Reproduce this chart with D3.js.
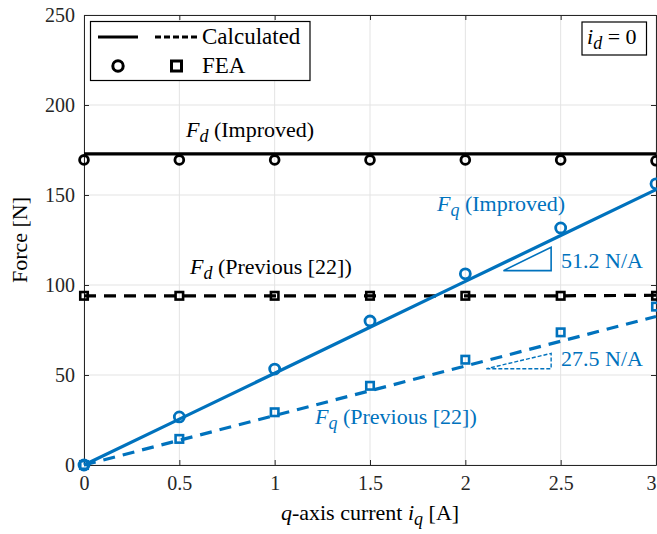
<!DOCTYPE html>
<html><head><meta charset="utf-8">
<script src="https://cdn.jsdelivr.net/npm/d3@7"></script>
<style>body{margin:0;background:#fff}svg{display:block}text{font-family:"Liberation Serif","Times New Roman",serif}</style>
</head><body><svg id="c" width="657" height="534"></svg>
<script>
const current = [0, 0.5, 1, 1.5, 2, 2.5, 3];
const fdImprovedCalc = [172.8, 172.8, 172.8, 172.8, 172.8, 172.8, 172.8];
const fdImprovedFEA = [169.5, 169.5, 169.5, 169.5, 169.5, 169.5, 169.0];
const fdPreviousCalc = [94, 94, 94, 94, 94, 94, 94.3];
const fdPreviousFEA = [94, 94, 94, 94, 94, 94, 94];
const fqImprovedCalc = [0, 25.5, 51, 76.5, 102, 127.5, 153];
const fqImprovedFEA = [0, 26.7, 53.3, 80, 106.2, 131.7, 156.2];
const fqPreviousCalc = [0, 13.75, 27.5, 41.25, 55, 68.75, 82.5];
const fqPreviousFEA = [0, 14.5, 29.3, 44, 58.5, 73.7, 88];
const xTicks = [0, 0.5, 1, 1.5, 2, 2.5, 3];
const yTicks = [0, 50, 100, 150, 200, 250];
const slopeImproved = [[2.2, 108], [2.45, 108], [2.45, 121]];
const slopePrevious = [[2.11, 53.5], [2.45, 53.5], [2.45, 62]];

const blue = "#0072BD", ink = "#262626";
const svg = d3.select("#c");
const L = 84, R = 656, T = 15, B = 465;
const x = d3.scaleLinear().domain([0, 3]).range([L, R]);
const y = d3.scaleLinear().domain([0, 250]).range([B, T]);

// grid
const g = svg.append("g");
g.selectAll("line.gx").data(xTicks).join("line").attr("x1", d => x(d)).attr("x2", d => x(d))
  .attr("y1", T).attr("y2", B).attr("stroke", "#e3e3e3").attr("stroke-width", 1);
g.selectAll("line.gy").data(yTicks).join("line").attr("y1", d => y(d)).attr("y2", d => y(d))
  .attr("x1", L).attr("x2", R).attr("stroke", "#e3e3e3").attr("stroke-width", 1);

// axes
const ax = d3.axisBottom(x).tickValues(xTicks).tickFormat(d3.format("")).tickSizeInner(-5).tickSizeOuter(0).tickPadding(11);
const ay = d3.axisLeft(y).tickValues(yTicks).tickSizeInner(-5).tickSizeOuter(0).tickPadding(9);
const axT = d3.axisTop(x).tickValues(xTicks).tickFormat("").tickSizeInner(-5).tickSizeOuter(0);
const ayR = d3.axisRight(y).tickValues(yTicks).tickFormat("").tickSizeInner(-5).tickSizeOuter(0);
function style(sel){ sel.selectAll("path").attr("stroke", ink).attr("stroke-width", 1);
  sel.selectAll("line").attr("stroke", ink);
  sel.selectAll("text").attr("fill", ink).attr("font-size", 20).attr("font-family", "Liberation Serif"); }
const gx = svg.append("g").attr("transform", `translate(0,${B})`).call(ax).call(style);
gx.selectAll(".tick text").filter(d => d === 3).attr("text-anchor", "end").attr("dx", 0);
svg.append("g").attr("transform", `translate(${L},0)`).call(ay).call(style);
svg.append("g").attr("transform", `translate(0,${T})`).call(axT).call(style);
svg.append("g").attr("transform", `translate(${R},0)`).call(ayR).call(style);

const line = d3.line().x((d, i) => x(current[i])).y(d => y(d));
function drawLine(data, color, dash){
  svg.append("path").datum(data).attr("d", line).attr("fill", "none").attr("stroke", color)
    .attr("stroke-width", 3.2).attr("stroke-dasharray", dash || null);
}
function circles(data, color, r){
  svg.append("g").selectAll("circle").data(data).join("circle")
    .attr("cx", (d, i) => x(current[i])).attr("cy", d => y(d)).attr("r", r)
    .attr("fill", "none").attr("stroke", color).attr("stroke-width", 2.8);
}
function squares(data, color, s){
  svg.append("g").selectAll("rect").data(data).join("rect")
    .attr("x", (d, i) => x(current[i]) - s/2).attr("y", d => y(d) - s/2).attr("width", s).attr("height", s)
    .attr("fill", "none").attr("stroke", color).attr("stroke-width", 2.6);
}

drawLine(fdImprovedCalc, "#000");
drawLine(fdPreviousCalc, "#000", "12,8");
drawLine(fqImprovedCalc, blue);
drawLine(fqPreviousCalc, blue, "12,8");
circles(fdImprovedFEA, "#000", 4.4);
squares(fdPreviousFEA, "#000", 7.5);
circles(fqImprovedFEA, blue, 5);
squares(fqPreviousFEA, blue, 7.5);

// slope triangles
const tri = d3.line().x(d => x(d[0])).y(d => y(d[1]));
svg.append("path").attr("d", tri(slopeImproved) + "Z")
  .attr("fill", "none").attr("stroke", blue).attr("stroke-width", 1.6);
svg.append("path").attr("d", tri(slopePrevious) + "Z")
  .attr("fill", "none").attr("stroke", blue).attr("stroke-width", 1.4).attr("stroke-dasharray", "4,2");

// annotations
function label(px, py, sym, sub, rest, color){
  const t = svg.append("text").attr("x", px).attr("y", py).attr("font-size", 22).attr("fill", color);
  t.append("tspan").attr("font-style", "italic").text(sym);
  t.append("tspan").attr("font-style", "italic").attr("font-size", 18).attr("dy", 5).text(sub);
  t.append("tspan").attr("dy", -5).text(" " + rest);
}
label(186, 137, "F", "d", "(Improved)", "#000");
label(190, 274, "F", "d", "(Previous [22])", "#000");
label(437, 211, "F", "q", "(Improved)", blue);
label(315, 424, "F", "q", "(Previous [22])", blue);
svg.append("text").attr("x", 561).attr("y", 268).attr("font-size", 22).attr("fill", blue).text("51.2 N/A");
svg.append("text").attr("x", 561).attr("y", 366).attr("font-size", 22).attr("fill", blue).text("27.5 N/A");

// legend
svg.append("rect").attr("x", 90.5).attr("y", 21.5).attr("width", 219.5).attr("height", 59)
  .attr("fill", "#fff").attr("stroke", "#000").attr("stroke-width", 1.2);
svg.append("line").attr("x1", 98).attr("x2", 138).attr("y1", 37).attr("y2", 37).attr("stroke", "#000").attr("stroke-width", 3);
svg.append("line").attr("x1", 155).attr("x2", 199).attr("y1", 37).attr("y2", 37).attr("stroke", "#000").attr("stroke-width", 3).attr("stroke-dasharray", "6,3");
svg.append("circle").attr("cx", 118).attr("cy", 66).attr("r", 5.2).attr("fill", "none").attr("stroke", "#000").attr("stroke-width", 3);
svg.append("rect").attr("x", 171.5).attr("y", 61).attr("width", 10).attr("height", 10).attr("fill", "none").attr("stroke", "#000").attr("stroke-width", 3);
svg.append("text").attr("x", 202).attr("y", 44).attr("font-size", 23).attr("fill", "#000").text("Calculated");
svg.append("text").attr("x", 202).attr("y", 73).attr("font-size", 23).attr("fill", "#000").text("FEA");

// i_d = 0 box
svg.append("rect").attr("x", 582).attr("y", 22).attr("width", 64.5).attr("height", 33)
  .attr("fill", "#fff").attr("stroke", "#000").attr("stroke-width", 1.2);
const id = svg.append("text").attr("x", 587).attr("y", 44).attr("font-size", 22).attr("fill", "#000");
id.append("tspan").attr("font-style", "italic").text("i");
id.append("tspan").attr("font-style", "italic").attr("font-size", 18).attr("dy", 5).text("d");
id.append("tspan").attr("dy", -5).text(" = 0");

// axis labels
const xl = svg.append("text").attr("x", 370).attr("y", 520).attr("text-anchor", "middle").attr("font-size", 22).attr("fill", "#000");
xl.append("tspan").attr("font-style", "italic").text("q");
xl.append("tspan").text("-axis current ");
xl.append("tspan").attr("font-style", "italic").text("i");
xl.append("tspan").attr("font-style", "italic").attr("font-size", 18).attr("dy", 5).text("q");
xl.append("tspan").attr("dy", -5).text(" [A]");
svg.append("text").attr("transform", `translate(27,${(T + B) / 2}) rotate(-90)`).attr("text-anchor", "middle")
  .attr("font-size", 22).attr("fill", "#000").text("Force [N]");
</script></body></html>
